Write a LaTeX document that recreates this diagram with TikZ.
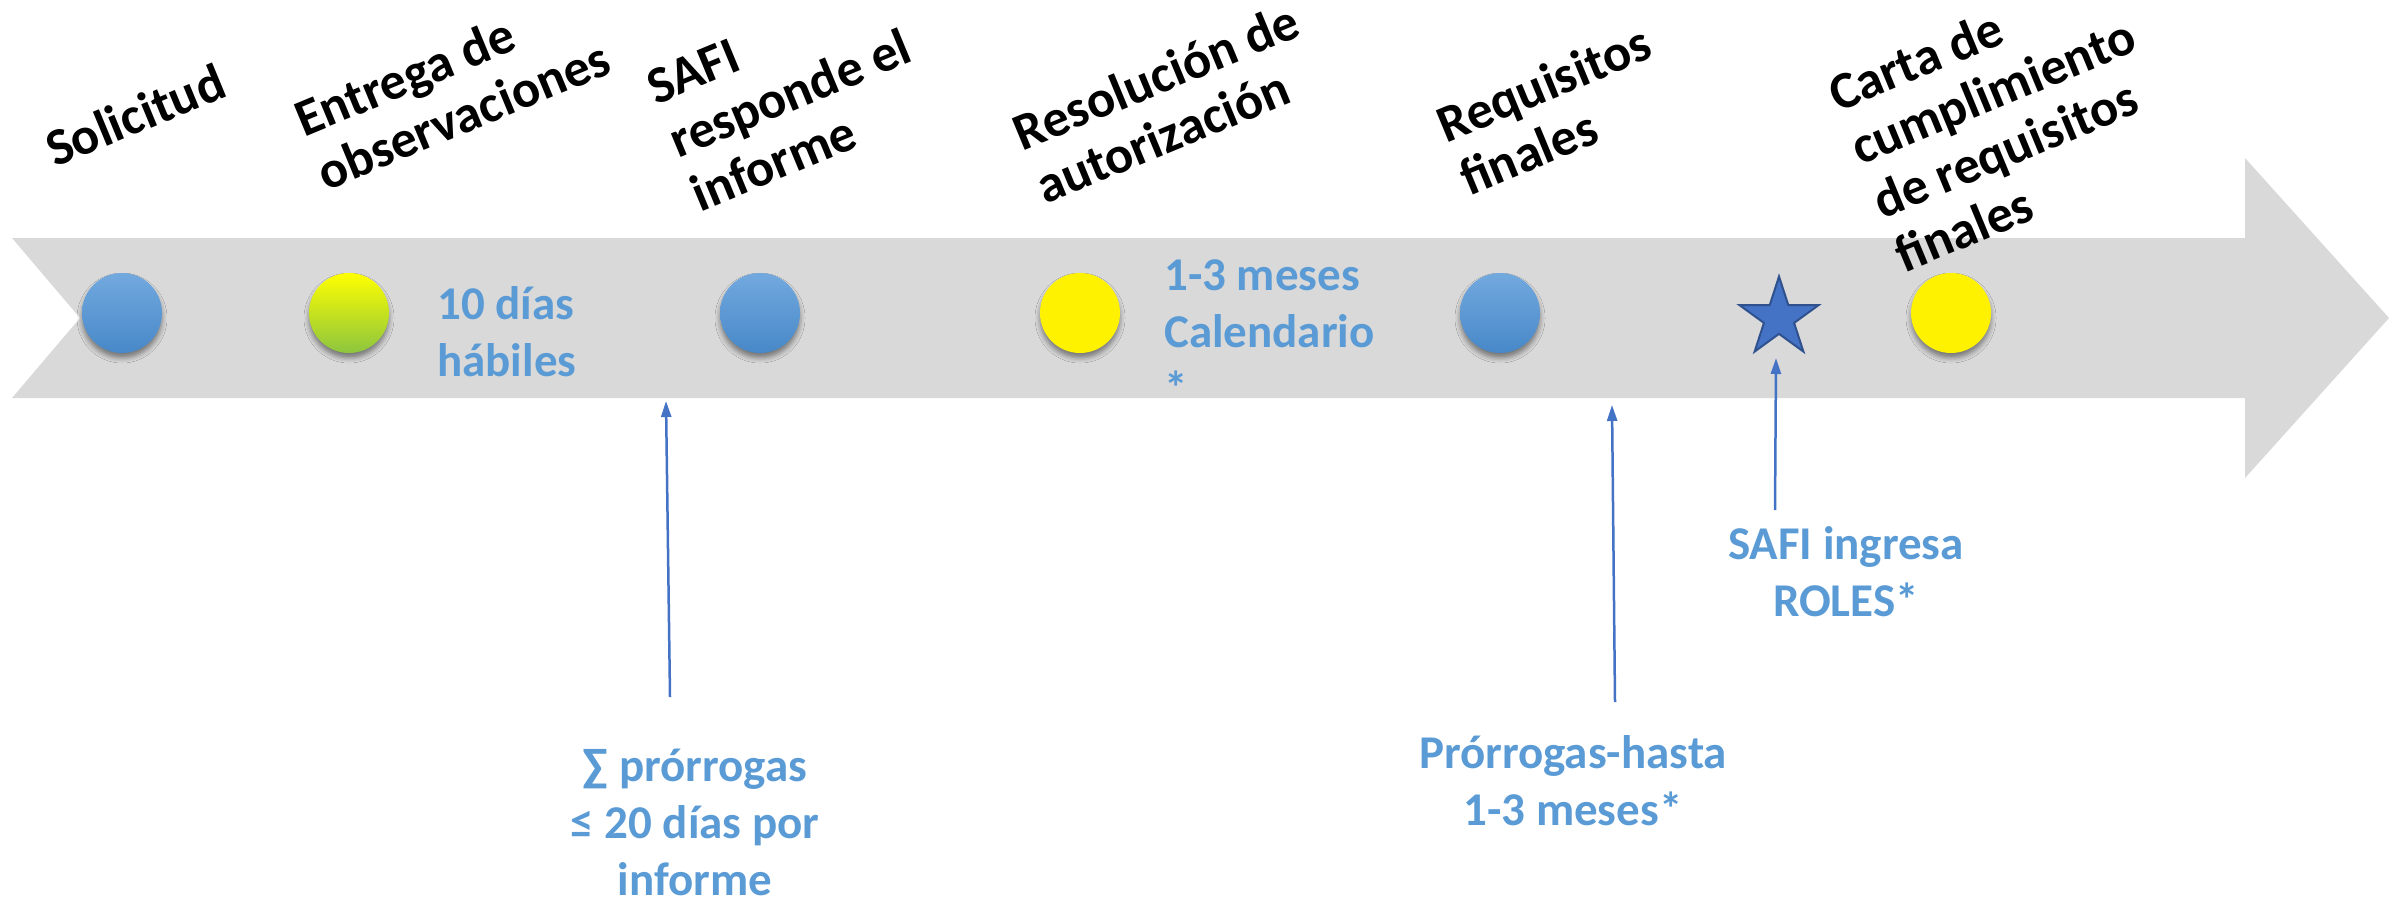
\documentclass[tikz,border=0pt]{standalone}
\usepackage{fontspec}
\setmainfont{Carlito}
\usetikzlibrary{shapes.geometric,arrows.meta,shadows.blur}
\definecolor{band}{HTML}{D9D9D9}
\definecolor{txtblue}{HTML}{5B9BD5}
\definecolor{arrblue}{HTML}{4472C4}
\definecolor{starline}{HTML}{2F528F}
\definecolor{btop}{HTML}{72A9DF}
\definecolor{bbot}{HTML}{4888C8}
\definecolor{ygreen}{HTML}{8CC53F}
\begin{document}
\begin{tikzpicture}[x=1pt,y=-1pt,
  dot/.style={circle,minimum size=80pt,inner sep=0pt,blur shadow={shadow xshift=0pt,shadow yshift=-5pt,shadow blur radius=5pt,shadow opacity=45}},
  bluedot/.style={dot,top color=btop,bottom color=bbot},
  yellowdot/.style={dot,fill=yellow},
  mixdot/.style={dot,top color=yellow,middle color=yellow,bottom color=ygreen},
  phase/.style={font=\fontsize{52.5}{58}\selectfont\bfseries,align=left,rotate=22.5,inner sep=0pt},
  note/.style={font=\fontsize{47}{57}\selectfont\bfseries,text=txtblue,inner sep=0pt},
  pointer/.style={draw=arrblue,line width=2.5pt,-{Triangle[width=10pt,length=16pt]}}
]
\useasboundingbox (0,0) rectangle (2389,905);
\fill[band] (12,238) -- (2245,238) -- (2245,158) -- (2389,318) -- (2245,478) -- (2245,398) -- (12,398) -- (80,318) -- cycle;

\node[bluedot] (c1) at (122,313) {};
\node[mixdot] (c2) at (349,313) {};
\node[bluedot] (c3) at (760,313) {};
\node[yellowdot] (c4) at (1080,313) {};
\node[bluedot] (c5) at (1500,313) {};
\node[star,star points=5,star point ratio=2.618,minimum size=83pt,inner sep=0pt,fill=arrblue,draw=starline,line width=2pt] (st) at (1779,318) {};
\node[yellowdot] (c6) at (1951,313) {};

\node[phase] (l1) at (135,115) {Solicitud};
\node[phase] (l2) at (452,88) {Entrega de\\observaciones};
\node[phase] (l3) at (790,94) {SAFI\\responde el\\informe};
\node[phase] (l4) at (1167,103) {Resolución de\\autorización};
\node[phase] (l5) at (1555,110) {Requisitos\\finales};
\node[phase] (l6) at (2004,118) {Carta de\\cumplimiento\\de requisitos\\finales};

\node[note,align=left,anchor=west] (n1) at (437,332) {10 días\\hábiles};
\node[note,align=left,anchor=west] (n2) at (1164,332) {1-3 meses\\Calendario\\*};
\node[note,align=center] (n3) at (695,822) {∑ prórrogas\\≤ 20 días por\\informe};
\node[note,align=center] (n4) at (1573,781) {Prórrogas-hasta\\1-3 meses*};
\node[note,align=center] (n5) at (1846,572) {SAFI ingresa\\ROLES*};

\coordinate (p1s) at (670,697);
\coordinate (p1e) at (666,401);
\coordinate (p2s) at (1615,702);
\coordinate (p2e) at (1612,405);
\coordinate (p3s) at (1775,510);
\coordinate (p3e) at (1776,358);
\draw[pointer] (p1s) -- (p1e);
\draw[pointer] (p2s) -- (p2e);
\draw[pointer] (p3s) -- (p3e);
\end{tikzpicture}
\end{document}
